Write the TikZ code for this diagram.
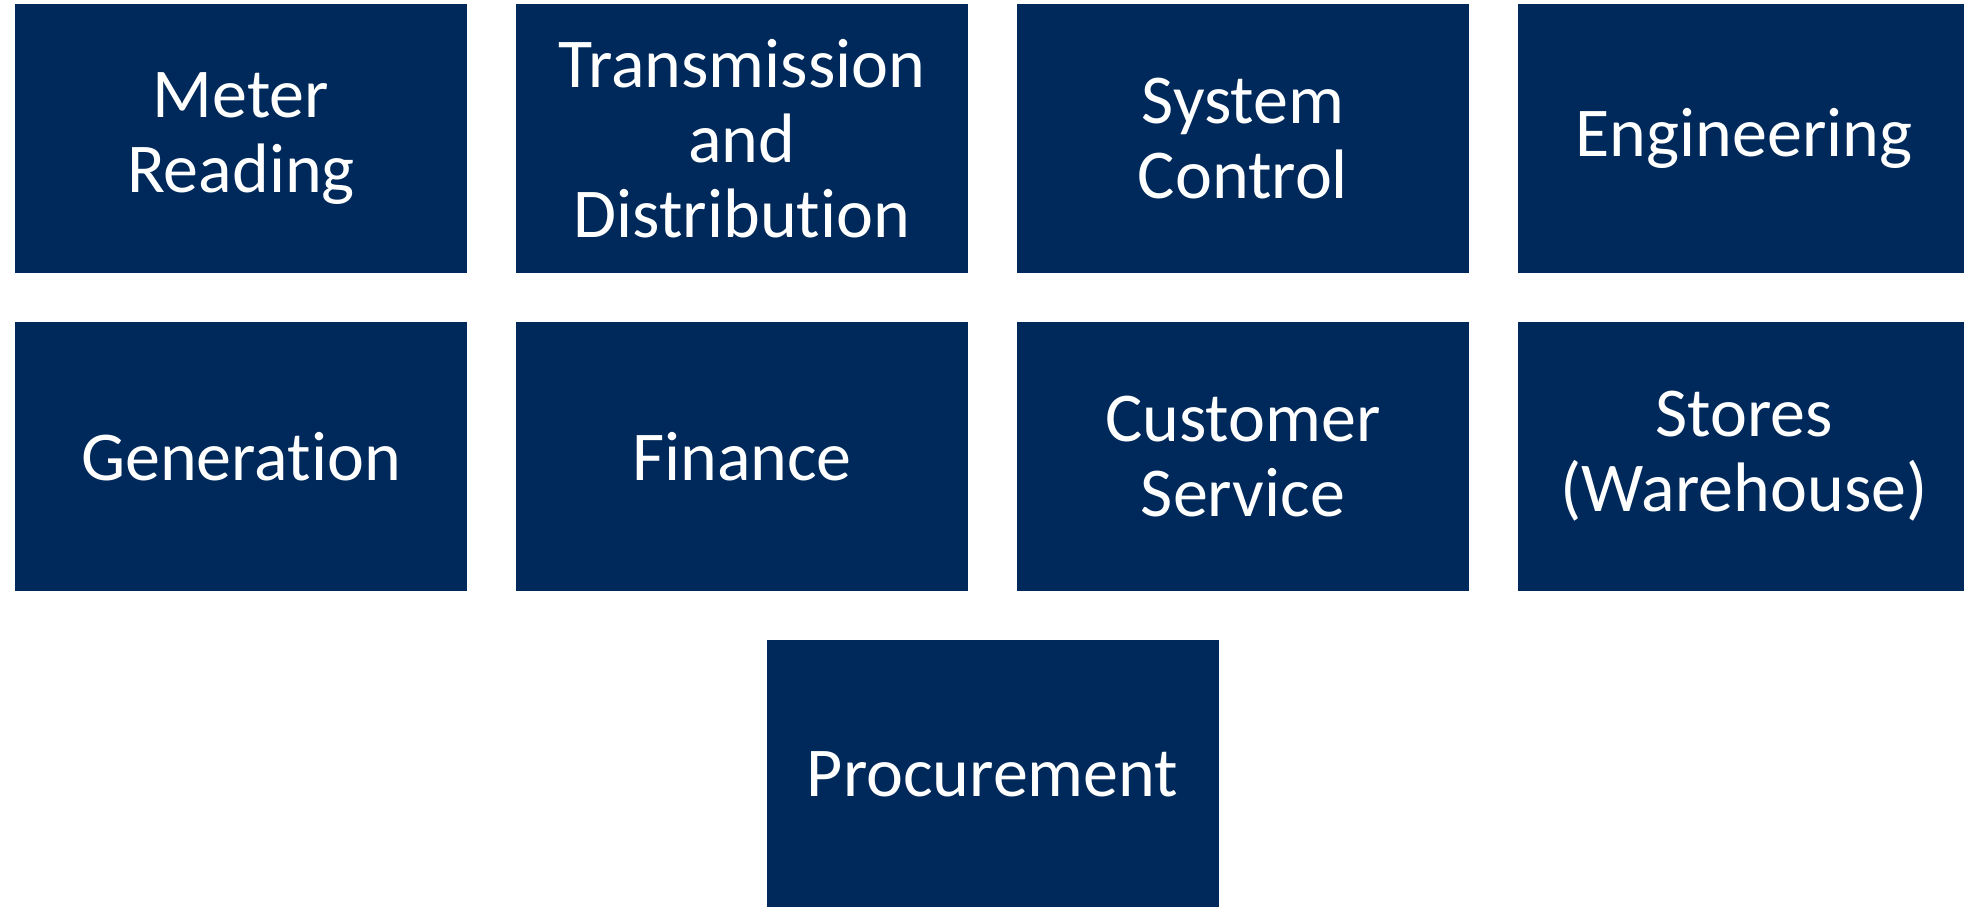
\documentclass[tikz,border=0pt]{standalone}
\usepackage{fontspec}
\setmainfont{Carlito}[Ligatures=NoCommon]
\usetikzlibrary{positioning,calc}
\definecolor{navy}{HTML}{00295B}
\tikzset{
  unit/.style={rectangle, fill=navy, text=white, inner sep=0pt, outer sep=0pt,
    minimum width=226pt, minimum height=134.5pt, align=center,
    font=\fontsize{35pt}{37.5pt}\selectfont}
}

\begin{document}
\begin{tikzpicture}[node distance=24.5pt]
                %fix the page to the size of the picture
                \useasboundingbox (0,0) rectangle (982pt,-453pt);

                %first row of units
                \node[unit, anchor=north west] (meter) at (7.5pt,-1.9pt) {Meter\\Reading};
                \node[unit, right=of meter] (trans) {Transmission\\and\\Distribution};
                \node[unit, right=of trans] (ctrl) {System\\Control};
                \node[unit, right=of ctrl] (eng) {Engineering};

                %second row of units
                \node[unit, below=of meter] (gen) {Generation};
                \node[unit, right=of gen] (fin) {Finance};
                \node[unit, right=of fin] (cust) {Customer\\Service};
                \node[unit, right=of cust] (stores) {Stores\\(Warehouse)};

                %last unit, centred under the gap between Finance and Customer Service
                \coordinate (mid) at ($(fin.south east)!0.5!(cust.south west)$);
                \node[unit, below=of mid] (proc) {Procurement};
            \end{tikzpicture}
\end{document}
